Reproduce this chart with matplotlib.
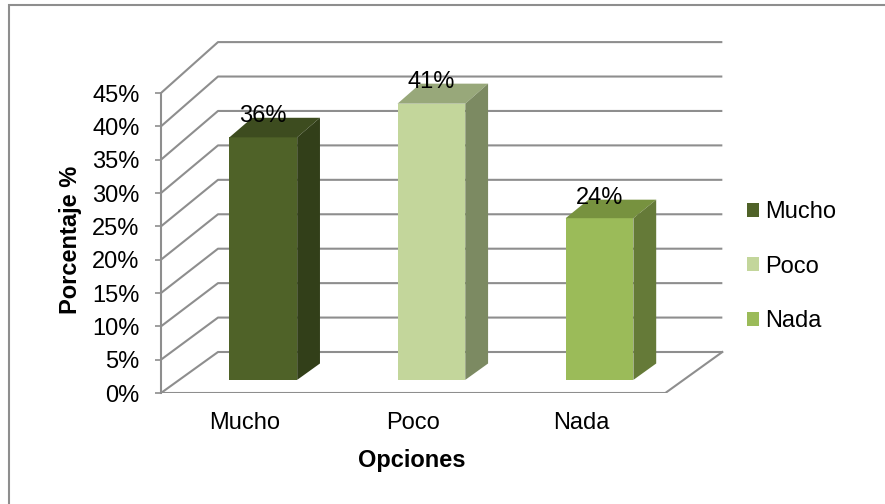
import matplotlib.pyplot as plt
from matplotlib.patches import Polygon, Rectangle

plt.rcParams['font.family'] = ['Liberation Sans', 'DejaVu Sans']

# datos de la encuesta
categorias = ['Mucho', 'Poco', 'Nada']
porcentajes = [36, 41, 24]
etiquetas = ['36%', '41%', '24%']
ticks_y = [0, 5, 10, 15, 20, 25, 30, 35, 40, 45]

# colores de cada barra: frente, tapa, lado
c_frente = ['#4F6228', '#C3D69B', '#9BBB59']
c_tapa = ['#3D4C1F', '#98A87A', '#77923F']
c_lado = ['#323F19', '#7C8A62', '#657A38']
gris = '#8E8E8E'

# vista oblicua de la caja 3d
DX = 0.339   # desplazamiento en x del fondo (unidades de categoria)
DY = 6.15    # desplazamiento en y del fondo (en %)
K = 0.033    # el fondo se ve un poco mas alto
P1, P2 = 0.32, 0.72   # profundidad de las barras
ANCHO = 0.403


def proy(x, v, d):
    return x + d * DX, v * (1 + K * d) + d * DY


fig = plt.figure(figsize=(8.85, 5.04), dpi=100)
ax = fig.add_axes([161 / 885, 111 / 504, 580 / 885, 360 / 504])
ax.set_xlim(0, 3.45)
ax.set_ylim(0, 54)

# pared del fondo y pared izquierda
n = len(categorias)
for v in ticks_y:
    xs, ys = zip(proy(0, v, 0), proy(0, v, 1), proy(n, v, 1))
    ax.plot(xs, ys, color=gris, lw=1.5, zorder=1, solid_capstyle='butt')

# piso
xs, ys = zip(proy(0, 0, 0), proy(n, 0, 0), proy(n, 0, 1))
ax.plot(xs, ys, color=gris, lw=1.5, zorder=1)

# barras
for i, (cat, val) in enumerate(zip(categorias, porcentajes)):
    xl = i + 0.5 - ANCHO / 2
    xr = i + 0.5 + ANCHO / 2
    x0, y0 = proy(i + 0.5, 0, P1)
    _, y1 = proy(i + 0.5, val, P1)
    ax.bar(x0, y1 - y0, bottom=y0, width=ANCHO, color=c_frente[i],
           label=cat, zorder=3, linewidth=0)
    tapa = [proy(xl, val, P1), proy(xr, val, P1), proy(xr, val, P2), proy(xl, val, P2)]
    lado = [proy(xr, 0, P1), proy(xr, val, P1), proy(xr, val, P2), proy(xr, 0, P2)]
    ax.add_patch(Polygon(tapa, closed=True, facecolor=c_tapa[i], lw=0, zorder=3))
    ax.add_patch(Polygon(lado, closed=True, facecolor=c_lado[i], lw=0, zorder=3))
    _, ytop = proy(i + 0.5, val, P2)
    ax.annotate(etiquetas[i], (x0, ytop), xytext=(0, -3), textcoords='offset points',
                ha='center', va='baseline', fontsize=17, zorder=5)

# ejes
for s in ['top', 'right', 'bottom']:
    ax.spines[s].set_visible(False)
ax.spines['left'].set_bounds(0, 45)
ax.spines['left'].set_color(gris)
ax.spines['left'].set_linewidth(1.5)
ax.set_yticks(ticks_y)
ax.set_yticklabels([f'{t}%' for t in ticks_y])
ax.tick_params(axis='y', length=4.5, width=1.2, color=gris, pad=11, labelsize=17)
ax.set_xticks([i + 0.5 for i in range(n)])
ax.set_xticklabels(categorias)
ax.tick_params(axis='x', length=0, pad=13.5, labelsize=17)
ax.patch.set_visible(False)

fig.text(412 / 885, 1 - 460 / 504, 'Opciones', ha='center', va='center',
         fontsize=17, fontweight='bold')
fig.text(71 / 885, 1 - 240 / 504, 'Porcentaje %', ha='center', va='center',
         rotation=90, fontsize=17, fontweight='bold')

fig.legend(loc='upper left', bbox_to_anchor=(747 / 885, 1 - 201 / 504),
           frameon=False, fontsize=17, handlelength=0.52, handleheight=0.52,
           handletextpad=0.25, borderpad=0, borderaxespad=0, labelspacing=1.38)

# marco del grafico
fig.patches.append(Rectangle((8.5 / 885, -0.1), 1.2, 1 - 5.5 / 504 + 0.1,
                             transform=fig.transFigure, fill=False,
                             edgecolor=gris, lw=1.5))

fig.savefig('out.png', dpi=100)
